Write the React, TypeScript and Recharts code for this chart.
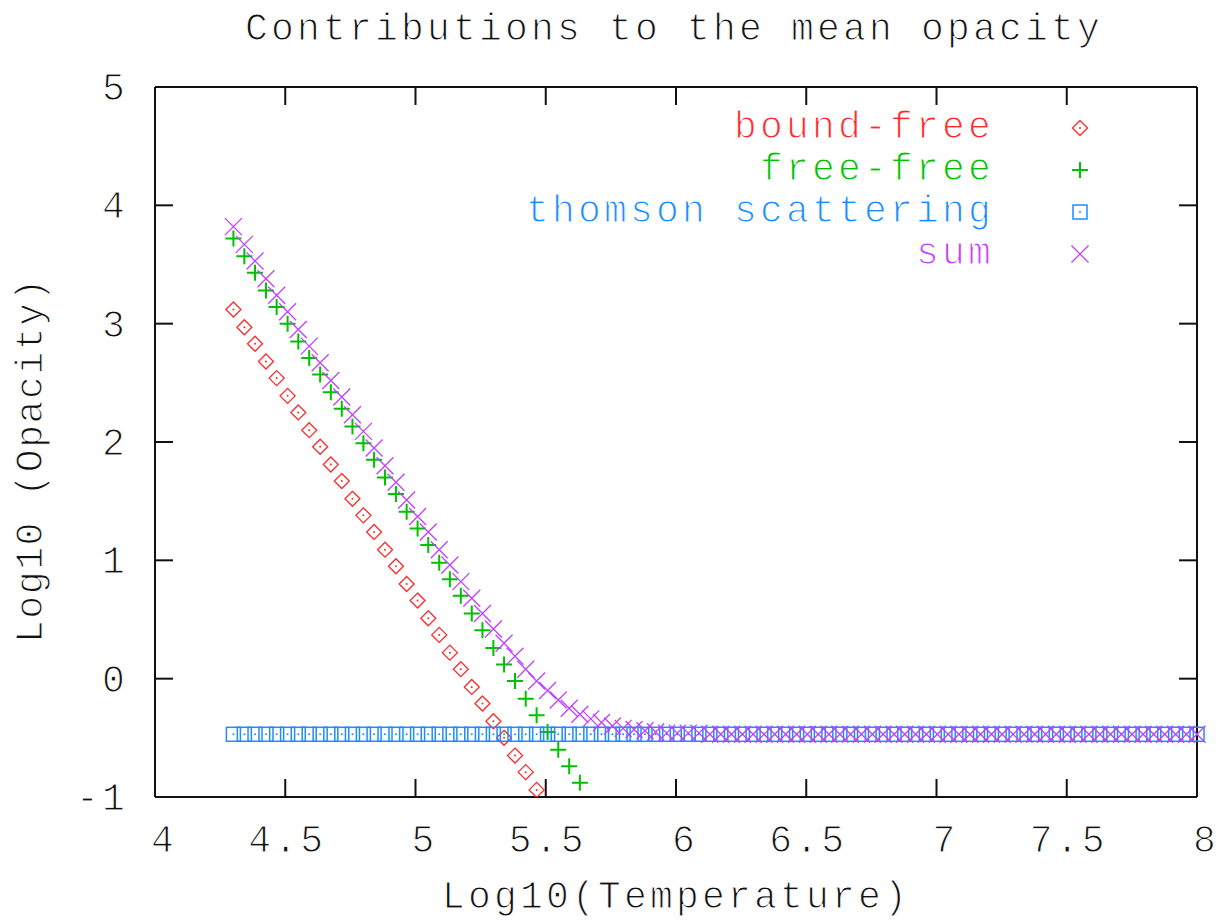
import { ScatterChart, Scatter, XAxis, YAxis, Legend, Label, ReferenceLine } from 'recharts'

// log10 of the temperature grid
const logT = [
  4.301, 4.343, 4.384, 4.426, 4.467, 4.509, 4.55, 4.592, 4.634, 4.675,
  4.717, 4.758, 4.8, 4.841, 4.883, 4.925, 4.966, 5.008, 5.049, 5.091,
  5.132, 5.174, 5.216, 5.257, 5.299, 5.34, 5.382, 5.423, 5.465, 5.507,
  5.548, 5.59, 5.631, 5.673, 5.714, 5.756, 5.797, 5.839, 5.881, 5.922,
  5.964, 6.005, 6.047, 6.088, 6.13, 6.172, 6.213, 6.255, 6.296, 6.338,
  6.379, 6.421, 6.463, 6.504, 6.546, 6.587, 6.629, 6.67, 6.712, 6.754,
  6.795, 6.837, 6.878, 6.92, 6.961, 7.003, 7.045, 7.086, 7.128, 7.169,
  7.211, 7.252, 7.294, 7.336, 7.377, 7.419, 7.46, 7.502, 7.543, 7.585,
  7.627, 7.668, 7.71, 7.751, 7.793, 7.834, 7.876, 7.918, 7.959, 8.0,
]

const boundFree = [
  3.12, 2.97, 2.83, 2.68, 2.54, 2.39, 2.25, 2.1, 1.96, 1.81,
  1.67, 1.52, 1.38, 1.24, 1.09, 0.95, 0.8, 0.66, 0.51, 0.37,
  0.22, 0.08, -0.07, -0.21, -0.36, -0.5, -0.65, -0.79, -0.94,
]

const freeFree = [
  3.72, 3.57, 3.43, 3.28, 3.14, 3.0, 2.85, 2.71, 2.57, 2.42,
  2.28, 2.13, 1.99, 1.85, 1.7, 1.56, 1.41, 1.27, 1.13, 0.98,
  0.84, 0.7, 0.55, 0.41, 0.26, 0.12, -0.02, -0.17, -0.31, -0.45,
  -0.6, -0.74, -0.88,
]

const thomson = [
  -0.47, -0.47, -0.47, -0.47, -0.47, -0.47, -0.47, -0.47, -0.47, -0.47,
  -0.47, -0.47, -0.47, -0.47, -0.47, -0.47, -0.47, -0.47, -0.47, -0.47,
  -0.47, -0.47, -0.47, -0.47, -0.47, -0.47, -0.47, -0.47, -0.47, -0.47,
  -0.47, -0.47, -0.47, -0.47, -0.47, -0.47, -0.47, -0.47, -0.47, -0.47,
  -0.47, -0.47, -0.47, -0.47, -0.47, -0.47, -0.47, -0.47, -0.47, -0.47,
  -0.47, -0.47, -0.47, -0.47, -0.47, -0.47, -0.47, -0.47, -0.47, -0.47,
  -0.47, -0.47, -0.47, -0.47, -0.47, -0.47, -0.47, -0.47, -0.47, -0.47,
  -0.47, -0.47, -0.47, -0.47, -0.47, -0.47, -0.47, -0.47, -0.47, -0.47,
  -0.47, -0.47, -0.47, -0.47, -0.47, -0.47, -0.47, -0.47, -0.47, -0.47,
]

const total = [
  3.82, 3.67, 3.53, 3.38, 3.24, 3.1, 2.95, 2.81, 2.67, 2.52,
  2.38, 2.23, 2.09, 1.95, 1.8, 1.66, 1.51, 1.37, 1.24, 1.09,
  0.96, 0.82, 0.68, 0.55, 0.42, 0.3, 0.19, 0.08, -0.02, -0.1,
  -0.18, -0.25, -0.3, -0.34, -0.37, -0.4, -0.42, -0.43, -0.44, -0.45,
  -0.46, -0.46, -0.46, -0.46, -0.47, -0.47, -0.47, -0.47, -0.47, -0.47,
  -0.47, -0.47, -0.47, -0.47, -0.47, -0.47, -0.47, -0.47, -0.47, -0.47,
  -0.47, -0.47, -0.47, -0.47, -0.47, -0.47, -0.47, -0.47, -0.47, -0.47,
  -0.47, -0.47, -0.47, -0.47, -0.47, -0.47, -0.47, -0.47, -0.47, -0.47,
  -0.47, -0.47, -0.47, -0.47, -0.47, -0.47, -0.47, -0.47, -0.47, -0.47,
]

const xTicks = [4, 4.5, 5, 5.5, 6, 6.5, 7, 7.5, 8]
const yTicks = [-1, 0, 1, 2, 3, 4, 5]

const RED = '#ff2a2a'
const GREEN = '#00c000'
const BLUE = '#1e8cff'
const PURPLE = '#c040ff'
const INK = '#111'

const FONT = '"Liberation Mono", "DejaVu Sans Mono", monospace'
const FS = 38

// inward tick length, in data units (about 18px each way)
const TICK_DX = 0.069
const TICK_DY = 0.152

const toPoints = (ys: number[]) => ys.map((y, i) => ({ x: logT[i], y }))

const Diamond = ({ cx, cy, color }: any) => (
  <g>
    <path d={`M${cx},${cy - 7.5}L${cx + 7.5},${cy}L${cx},${cy + 7.5}L${cx - 7.5},${cy}Z`} fill='none' stroke={color} strokeWidth={1.3} />
    <circle cx={cx} cy={cy} r={1} fill={color} />
  </g>
)
const Plus = ({ cx, cy, color }: any) => (
  <path d={`M${cx - 8},${cy}H${cx + 8}M${cx},${cy - 8}V${cy + 8}`} stroke={color} strokeWidth={2} />
)
const Box = ({ cx, cy, color }: any) => (
  <g>
    <rect x={cx - 7} y={cy - 7} width={14} height={14} fill='none' stroke={color} strokeWidth={1.5} />
    <circle cx={cx} cy={cy} r={1} fill={color} />
  </g>
)
const Cross = ({ cx, cy, color }: any) => (
  <path d={`M${cx - 8.5},${cy - 8.5}L${cx + 8.5},${cy + 8.5}M${cx - 8.5},${cy + 8.5}L${cx + 8.5},${cy - 8.5}`} stroke={color} strokeWidth={1.3} />
)

const series = [
  { name: 'bound-free', values: boundFree, color: RED, Marker: Diamond },
  { name: 'free-free', values: freeFree, color: GREEN, Marker: Plus },
  { name: 'thomson scattering', values: thomson, color: BLUE, Marker: Box },
  { name: 'sum', values: total, color: PURPLE, Marker: Cross },
]

// a thin white outline eats into the glyphs so the text reads lighter
const textStyle: any = {
  fontFamily: FONT,
  fontSize: FS,
  letterSpacing: 3.2,
  fill: INK,
  stroke: '#fff',
  strokeWidth: 1.1,
}

function KeyBox() {
  return (
    <div style={{ width: 640 }}>
      {series.map(s => (
        <div key={s.name} style={{ display: 'flex', alignItems: 'center', height: 42 }}>
          <div
            style={{
              width: 494,
              textAlign: 'right',
              color: s.color,
              fontFamily: FONT,
              fontSize: FS,
              letterSpacing: 3.2,
              lineHeight: '42px',
              WebkitTextStroke: '1.1px #fff',
            }}
          >
            {s.name}
          </div>
          <svg width={146} height={42}>
            <s.Marker cx={86} cy={21} color={s.color} />
          </svg>
        </div>
      ))}
    </div>
  )
}

const BottomTick = ({ x, payload }: any) => (
  <text x={x + (String(payload.value).length === 1 ? 9 : 2)} y={852} textAnchor='middle' style={textStyle}>
    {payload.value}
  </text>
)
const LeftTick = ({ y, payload }: any) => (
  <text x={128} y={y + 13} textAnchor='end' style={textStyle}>{payload.value}</text>
)
const noTick = () => <g />

const frame = { stroke: INK, strokeWidth: 2 }
const tickLineStyle = { stroke: INK, strokeWidth: 2, ifOverflow: 'visible' as const }

export default function App() {
  return (
    <div style={{ position: 'absolute', left: 0, top: 0, width: 1218, height: 922, background: '#fff' }}>
      <ScatterChart width={1218} height={922} margin={{ top: 86, right: 20, bottom: 65, left: 95 }}>
        <XAxis
          type='number'
          dataKey='x'
          domain={[4, 8]}
          ticks={xTicks}
          interval={0}
          height={60}
          tickLine={false}
          tick={BottomTick}
          axisLine={frame}
        >
          <Label
            content={({ viewBox }: any) => (
              <text x={viewBox.x + viewBox.width / 2} y={908} textAnchor='middle' style={textStyle}>
                Log10(Temperature)
              </text>
            )}
          />
        </XAxis>
        <XAxis
          xAxisId='top'
          orientation='top'
          type='number'
          domain={[4, 8]}
          ticks={xTicks}
          interval={0}
          height={1}
          tickLine={false}
          tick={noTick}
          axisLine={frame}
        />
        <YAxis
          type='number'
          dataKey='y'
          domain={[-1, 5]}
          allowDataOverflow
          ticks={yTicks}
          interval={0}
          width={60}
          tickLine={false}
          tick={LeftTick}
          axisLine={frame}
        >
          <Label
            content={() => (
              <text transform='translate(42,460) rotate(-90)' textAnchor='middle' style={{ ...textStyle, letterSpacing: 1.6 }}>
                Log10 (Opacity)
              </text>
            )}
          />
        </YAxis>
        <YAxis
          yAxisId='right'
          orientation='right'
          type='number'
          domain={[-1, 5]}
          ticks={yTicks}
          interval={0}
          width={1}
          tickLine={false}
          tick={noTick}
          axisLine={frame}
        />
        {xTicks.map(t => (
          <ReferenceLine key={`b${t}`} segment={[{ x: t, y: -1 }, { x: t, y: -1 + TICK_DY }]} {...tickLineStyle} />
        ))}
        {xTicks.map(t => (
          <ReferenceLine key={`t${t}`} segment={[{ x: t, y: 5 }, { x: t, y: 5 - TICK_DY }]} {...tickLineStyle} />
        ))}
        {yTicks.map(v => (
          <ReferenceLine key={`l${v}`} segment={[{ x: 4, y: v }, { x: 4 + TICK_DX, y: v }]} {...tickLineStyle} />
        ))}
        {yTicks.map(v => (
          <ReferenceLine key={`r${v}`} segment={[{ x: 8, y: v }, { x: 8 - TICK_DX, y: v }]} {...tickLineStyle} />
        ))}
        <Legend
          layout='vertical'
          align='center'
          verticalAlign='middle'
          content={() => <KeyBox />}
          wrapperStyle={{ position: 'absolute', left: 500, top: 107, width: 640, height: 168 }}
        />
        {series.map(s => (
          <Scatter
            key={s.name}
            name={s.name}
            data={toPoints(s.values)}
            fill={s.color}
            isAnimationActive={false}
            shape={(p: any) => <s.Marker cx={p.cx} cy={p.cy} color={s.color} />}
          />
        ))}
      </ScatterChart>
      <svg width={1218} height={60} style={{ position: 'absolute', left: 0, top: 0 }}>
        <text x={674} y={40} textAnchor='middle' style={textStyle}>
          Contributions to the mean opacity
        </text>
      </svg>
    </div>
  )
}
